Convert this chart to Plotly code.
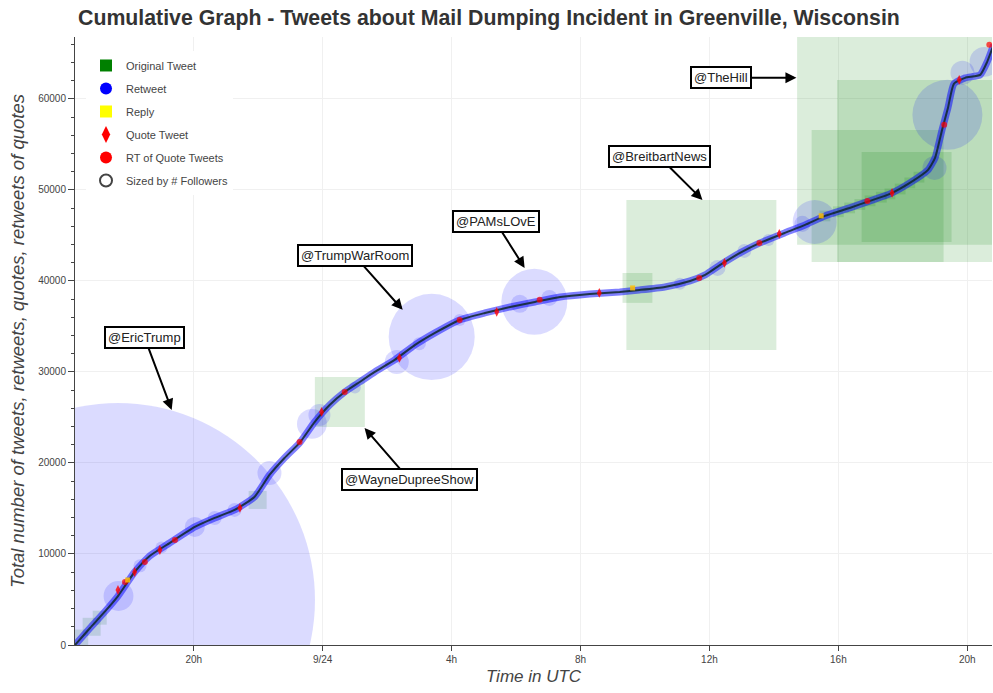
import numpy as np
import plotly.graph_objects as go

# ---------------- data ----------------
curve_time = [
    "2020-09-23 16:19", "2020-09-23 16:47", "2020-09-23 17:14", "2020-09-23 17:39",
    "2020-09-23 18:10", "2020-09-23 18:38", "2020-09-23 19:15", "2020-09-23 20:02",
    "2020-09-23 20:39", "2020-09-23 21:16", "2020-09-23 21:53", "2020-09-23 22:21",
    "2020-09-23 22:49", "2020-09-23 23:17", "2020-09-23 23:45", "2020-09-24 00:13",
    "2020-09-24 00:41", "2020-09-24 01:09", "2020-09-24 01:37", "2020-09-24 02:14",
    "2020-09-24 02:52", "2020-09-24 03:29", "2020-09-24 04:15", "2020-09-24 05:02",
    "2020-09-24 05:49", "2020-09-24 06:35", "2020-09-24 07:22", "2020-09-24 08:17",
    "2020-09-24 09:13", "2020-09-24 09:50", "2020-09-24 10:37", "2020-09-24 11:24",
    "2020-09-24 11:52", "2020-09-24 12:20", "2020-09-24 12:57", "2020-09-24 13:34",
    "2020-09-24 14:20", "2020-09-24 14:58", "2020-09-24 15:35", "2020-09-24 16:21",
    "2020-09-24 16:59", "2020-09-24 17:36", "2020-09-24 18:13", "2020-09-24 18:47",
    "2020-09-24 19:00", "2020-09-24 19:13", "2020-09-24 19:24", "2020-09-24 19:35",
    "2020-09-24 19:56", "2020-09-24 20:24", "2020-09-24 20:37", "2020-09-24 20:49",
]
curve_count = [
    0, 1870, 3630, 5380, 8020, 9780, 11200, 12970, 13960, 14840, 16260, 18680,
    20550, 22200, 24500, 26370, 27800, 28900, 30000, 31320, 32970, 34290, 35710, 36480,
    37140, 37690, 38240, 38570, 38790, 39010, 39340, 40000, 40660, 41760, 43080, 44180,
    45270, 46150, 47140, 48020, 48800, 49560, 50770, 52200, 53520, 56590, 59010, 61650,
    62310, 62640, 64070, 65940,
]

# Retweets (blue circles, sized by followers)
rt_time = [
    "2020-09-23 17:39", "2020-09-23 17:40", "2020-09-23 20:02", "2020-09-23 20:39",
    "2020-09-23 21:16", "2020-09-23 22:21", "2020-09-23 23:40", "2020-09-23 23:54",
    "2020-09-24 02:18", "2020-09-24 03:23", "2020-09-24 04:15", "2020-09-24 06:34",
    "2020-09-24 06:07", "2020-09-24 07:02", "2020-09-24 12:15", "2020-09-24 13:05",
    "2020-09-24 14:53", "2020-09-24 15:16", "2020-09-24 18:59", "2020-09-24 19:23",
    "2020-09-24 19:51", "2020-09-24 20:32",
    "2020-09-23 18:20", "2020-09-23 19:00", "2020-09-24 01:00", "2020-09-24 03:00",
    "2020-09-24 11:05", "2020-09-24 13:50",
]
rt_count = [
    4950, 5380, 12970, 13960, 14840, 18900, 24290, 25280, 31100, 33850, 35710, 37700,
    37480, 38130, 41430, 43300, 46270, 46470, 52420, 58250, 62860, 64070,
    8700, 10700, 28300, 33100, 39700, 44500,
]
rt_followers = [
    4527000, 26000, 11700, 5700, 5700, 16800, 26000, 14100, 16800, 216000, 4200, 127000,
    9450, 7500, 7500, 5700, 7500, 56500, 16800, 142900, 16800, 26000,
    5000, 4200, 4200, 5000, 4200, 4200,
]

# Original tweets (green squares, sized by followers)
orig_time = [
    "2020-09-24 18:21", "2020-09-24 18:47", "2020-09-24 17:13", "2020-09-24 18:07",
    "2020-09-24 11:45", "2020-09-24 09:46", "2020-09-24 00:32", "2020-09-23 21:59",
    "2020-09-23 16:25", "2020-09-23 16:50", "2020-09-23 17:05",
    "2020-09-24 15:35", "2020-09-24 16:00", "2020-09-24 16:21", "2020-09-24 16:40",
    "2020-09-24 16:59", "2020-09-24 17:20", "2020-09-24 17:36", "2020-09-24 17:55",
    "2020-09-24 18:13", "2020-09-24 18:30",
]
orig_count = [
    56820, 52090, 49340, 49230, 40660, 39230, 26700, 15940, 600, 2000, 3000,
    47140, 47600, 48020, 48400, 48800, 49200, 49560, 50100, 50770, 51400,
]
orig_followers = [
    1597000, 966000, 508000, 236000, 656000, 26000, 72900, 9450, 11700, 9450, 5700,
    3400, 3400, 3400, 3400, 3400, 3400, 3400, 3400, 3400, 3400,
]

# Quote tweets (red thin diamonds)
quote_time = [
    "2020-09-23 17:39", "2020-09-23 18:10", "2020-09-23 18:57", "2020-09-23 21:26",
    "2020-09-23 23:58", "2020-09-24 02:23", "2020-09-24 05:24", "2020-09-24 08:35",
    "2020-09-24 12:28", "2020-09-24 14:10", "2020-09-24 17:40", "2020-09-24 19:45",
]
quote_count = [6045, 8020, 10440, 15060, 25610, 31540, 36600, 38680, 41980, 45170, 49670, 62090]

# Retweets of quote tweets (red circles)
rtq_time = [
    "2020-09-23 17:52", "2020-09-23 18:29", "2020-09-23 19:25", "2020-09-23 23:17",
    "2020-09-24 00:41", "2020-09-24 04:15", "2020-09-24 06:44", "2020-09-24 11:41",
    "2020-09-24 13:33", "2020-09-24 16:54", "2020-09-24 19:17", "2020-09-24 20:41",
]
rtq_count = [6920, 9120, 11540, 22310, 27800, 35720, 37920, 40330, 44180, 48790, 57150, 65940]

# Replies (yellow)
reply_time = ["2020-09-23 17:57", "2020-09-24 09:37", "2020-09-24 15:28"]
reply_count = [7140, 39230, 47150]

# Axis ticks
x_tickvals = ["2020-09-23 20:00", "2020-09-24 00:00", "2020-09-24 04:00", "2020-09-24 08:00",
              "2020-09-24 12:00", "2020-09-24 16:00", "2020-09-24 20:00"]
x_ticktext = ["20h", "9/24", "4h", "8h", "12h", "16h", "20h"]

# Annotated accounts
callouts = ["@EricTrump", "@TrumpWarRoom", "@PAMsLOvE", "@WayneDupreeShow", "@BreitbartNews", "@TheHill"]


def px_size(followers):
    return np.maximum(np.sqrt(np.array(followers, dtype=float)) / 5.4, 4)


FONT = "Liberation Sans, Arial, sans-serif"
fig = go.Figure()

fig.add_trace(go.Scatter(
    x=orig_time, y=orig_count, mode="markers", showlegend=False, hoverinfo="skip",
    marker=dict(symbol="square", size=px_size(orig_followers), color="rgba(0,128,0,0.2)", line=dict(width=0)),
))
fig.add_trace(go.Scatter(
    x=rt_time, y=rt_count, mode="markers", showlegend=False, hoverinfo="skip",
    marker=dict(symbol="circle", size=px_size(rt_followers), color="rgba(0,0,255,0.2)", line=dict(width=0)),
))
fig.add_trace(go.Scatter(
    x=curve_time, y=curve_count, mode="lines", showlegend=False, hoverinfo="skip",
    line=dict(color="rgba(0,0,255,0.5)", width=7, shape="spline", smoothing=0.5),
))
fig.add_trace(go.Scatter(
    x=curve_time, y=curve_count, mode="lines", showlegend=False, hoverinfo="skip",
    line=dict(color="rgba(15,40,40,0.85)", width=2, shape="spline", smoothing=0.5),
))
fig.add_trace(go.Scatter(
    x=quote_time, y=quote_count, mode="markers", showlegend=False, hoverinfo="skip",
    marker=dict(symbol="diamond-tall", size=7, color="rgba(255,0,0,0.8)", line=dict(width=0)),
))
fig.add_trace(go.Scatter(
    x=rtq_time, y=rtq_count, mode="markers", showlegend=False, hoverinfo="skip",
    marker=dict(symbol="circle", size=6, color="rgba(255,0,0,0.7)", line=dict(width=0)),
))
fig.add_trace(go.Scatter(
    x=reply_time, y=reply_count, mode="markers", showlegend=False, hoverinfo="skip",
    marker=dict(symbol="square", size=5, color="rgba(255,190,0,0.85)", line=dict(width=0)),
))

# Legend entries
legend_items = [
    ("Original Tweet", dict(symbol="square", size=8, color="green")),
    ("Retweet", dict(symbol="circle", size=9, color="blue")),
    ("Reply", dict(symbol="square", size=9, color="yellow")),
    ("Quote Tweet", dict(symbol="diamond-tall", size=8, color="red")),
    ("RT of Quote Tweets", dict(symbol="circle", size=9, color="red")),
    ("Sized by # Followers", dict(symbol="circle-open", size=9, color="#444", line=dict(width=1.2))),
]
for i, (name, mk) in enumerate(legend_items):
    fig.add_trace(go.Scatter(x=[None], y=[None], mode="markers", name=name,
                             legendgroup=f"g{i}", marker=mk))

# Callout annotations: (arrow tip time, tip count, ax, ay)
tips = [
    ("2020-09-23 19:19", 25830, -27, -72),
    ("2020-09-24 02:29", 36820, -48, -54),
    ("2020-09-24 06:16", 41430, -29, -46),
    ("2020-09-24 01:18", 23850, 45, 52),
    ("2020-09-24 11:47", 48900, -43, -43),
    ("2020-09-24 14:42", 62310, -75, 0),
]
for name, (tx, ty, ax, ay) in zip(callouts, tips):
    fig.add_annotation(
        x=tx, y=ty, xref="x", yref="y", text=name, showarrow=True,
        ax=ax, ay=ay, arrowhead=2, arrowsize=1.1, arrowwidth=2, arrowcolor="black",
        font=dict(family=FONT, size=13, color="#222"),
        bgcolor="white", bordercolor="black", borderwidth=2, borderpad=2,
    )

fig.update_layout(
    width=993, height=693,
    margin=dict(l=75, r=1, t=37, b=48, autoexpand=False),
    paper_bgcolor="white", plot_bgcolor="white",
    font=dict(family=FONT, color="#444"),
    title=dict(text="<b>Cumulative Graph - Tweets about Mail Dumping Incident in Greenville, Wisconsin</b>",
               x=78 / 993, xanchor="left", y=1 - 18 / 693, yanchor="middle",
               font=dict(family=FONT, size=21.3, color="#333")),
    legend=dict(x=0.012, y=0.977, xanchor="left", yanchor="top", bgcolor="white",
                borderwidth=0, font=dict(family=FONT, size=11, color="#444"),
                tracegroupgap=4, itemsizing="constant"),
    showlegend=True,
)
fig.update_xaxes(
    type="date", range=["2020-09-23 16:19", "2020-09-24 20:46"], automargin=False,
    tickvals=x_tickvals, ticktext=x_ticktext, ticks="outside", ticklen=5, tickcolor="#444",
    tickfont=dict(family=FONT, size=10, color="#444"),
    showline=True, linecolor="#444", linewidth=1,
    showgrid=True, gridcolor="#f0f0f0", zeroline=False,
    title=dict(text="<i>Time in UTC</i>", font=dict(family=FONT, size=17, color="#444"), standoff=6),
)
fig.update_yaxes(
    range=[0, 66800], dtick=10000, tickformat="d", ticks="outside", ticklen=6, tickcolor="#444",
    automargin=False,
    tickfont=dict(family=FONT, size=10, color="#444"),
    minor=dict(dtick=2000, ticks="outside", ticklen=3, tickcolor="#444", showgrid=False),
    showline=True, linecolor="#444", linewidth=1,
    showgrid=True, gridcolor="#f0f0f0", zeroline=False,
    title=dict(text="<i>Total number of tweets, retweets, quotes, retweets of quotes</i>",
               font=dict(family=FONT, size=18.5, color="#444"), standoff=8),
)

fig.write_html("out.html", config={"displayModeBar": False},
               post_script="document.body.style.margin='0';document.body.style.overflow='hidden';")
